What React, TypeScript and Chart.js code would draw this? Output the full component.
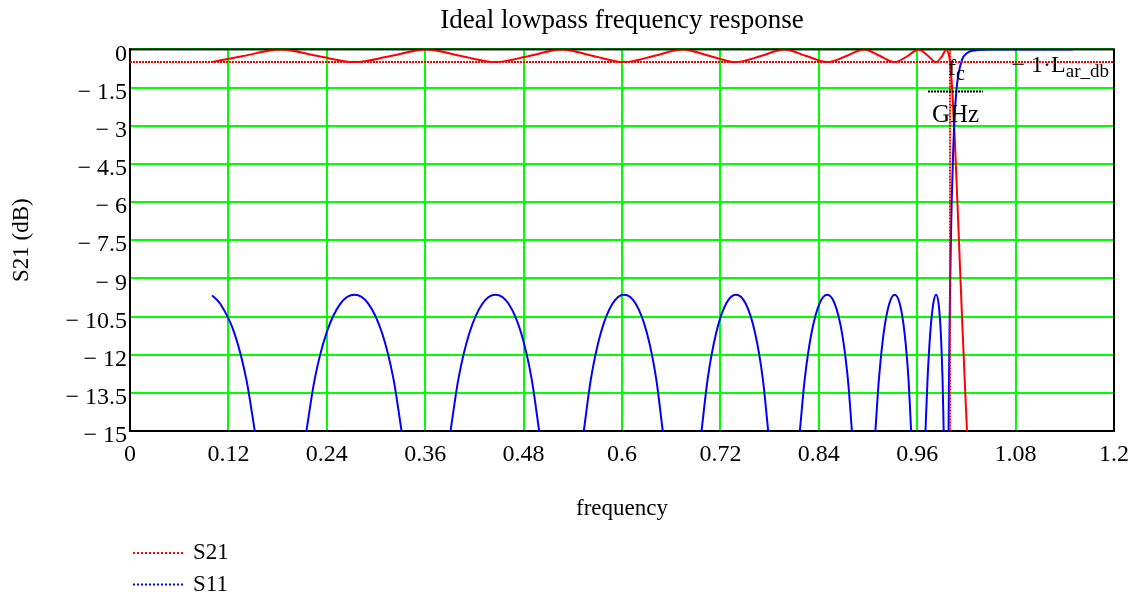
import { useEffect, useRef } from 'react';
import { Chart, registerables } from 'chart.js';

Chart.register(...registerables);

const FONT = '"Liberation Serif", "Times New Roman", serif';

const chartTitle = 'Ideal lowpass frequency response';
const xAxisTitle = 'frequency';
const yAxisTitle = 'S21 (dB)';

const xTickValues = [0, 0.12, 0.24, 0.36, 0.48, 0.6, 0.72, 0.84, 0.96, 1.08, 1.2];
const xTickLabels = ['0', '0.12', '0.24', '0.36', '0.48', '0.6', '0.72', '0.84', '0.96', '1.08', '1.2'];
const yTickValues = [0, -1.5, -3, -4.5, -6, -7.5, -9, -10.5, -12, -13.5, -15];
const yTickLabels = ['0', '− 1.5', '− 3', '− 4.5', '− 6', '− 7.5', '− 9', '− 10.5', '− 12', '− 13.5', '− 15'];

// passband ripple (L_ar_db) and cut-off frequency (f_c, GHz)
const rippleDb = 0.5;
const cutoffGHz = 1.0;

// S21 (dB) vs frequency
const s21Freq = [
  0.1, 0.1382, 0.1837, 0.229, 0.2737, 0.3178, 0.3612, 0.4039, 0.4457, 0.4866,
  0.5264, 0.5651, 0.6026, 0.6388, 0.6737, 0.7071, 0.739, 0.7693, 0.798, 0.825,
  0.8502, 0.8736, 0.8952, 0.9148, 0.9325, 0.9482, 0.9618, 0.9734, 0.983, 0.9904,
  0.9957, 0.9989, 1.0, 1.001, 1.002, 1.004, 1.006, 1.008, 1.01, 1.012,
  1.015, 1.018, 1.02, 1.025, 1.03, 1.05, 1.1, 1.15,
];
const s21Db = [
  -0.49, -0.26, 0, -0.26, -0.5, -0.26, 0, -0.26, -0.5, -0.26,
  0, -0.26, -0.5, -0.26, 0, -0.26, -0.5, -0.26, 0, -0.26,
  -0.5, -0.26, 0, -0.26, -0.5, -0.26, 0, -0.26, -0.5, -0.26,
  0, -0.26, -0.5, -0.82, -1.23, -2.3, -3.66, -5.19, -6.77, -8.41,
  -10.79, -13.04, -14.49, -17.86, -20.95, -31.3, -50.3, -64.9,
];

// S11 (dB) vs frequency (null = below the plotted range)
const s11Freq = [
  0.1, 0.1098, 0.1273, 0.1419, 0.1522, 0.1837,
  0.2151, 0.2252, 0.2396, 0.2566, 0.2737, 0.2906, 0.3074, 0.3214, 0.3312, 0.3612,
  0.3909, 0.4004, 0.4139, 0.4299, 0.4457, 0.4615, 0.477, 0.4899, 0.499, 0.5264,
  0.5534, 0.562, 0.5741, 0.5885, 0.6026, 0.6166, 0.6304, 0.6418, 0.6497, 0.6737,
  0.697, 0.7044, 0.7148, 0.727, 0.739, 0.7508, 0.7623, 0.7718, 0.7783, 0.798,
  0.8169, 0.8228, 0.8311, 0.8408, 0.8502, 0.8594, 0.8683, 0.8755, 0.8804, 0.8952,
  0.909, 0.9133, 0.9191, 0.926, 0.9325, 0.9387, 0.9446, 0.9494, 0.9526, 0.9618,
  0.9701, 0.9726, 0.9759, 0.9796, 0.983, 0.9861, 0.9888, 0.9909, 0.9923, 0.9957,
  0.9982, 0.99875, 0.99938, 0.99984, 1.0, 1.001, 1.002, 1.004, 1.006, 1.008,
  1.01, 1.015, 1.02, 1.03, 1.05, 1.15,
];
const s11Db = [
  -9.67, -9.99, -11.15, -12.97, -15, null,
  -15, -12.97, -11.15, -9.99, -9.64, -9.99, -11.15, -12.97, -15, null,
  -15, -12.97, -11.15, -9.99, -9.64, -9.99, -11.15, -12.97, -15, null,
  -15, -12.97, -11.15, -9.99, -9.64, -9.99, -11.15, -12.97, -15, null,
  -15, -12.97, -11.15, -9.99, -9.64, -9.99, -11.15, -12.97, -15, null,
  -15, -12.97, -11.15, -9.99, -9.64, -9.99, -11.15, -12.97, -15, null,
  -15, -12.97, -11.15, -9.99, -9.64, -9.99, -11.15, -12.97, -15, null,
  -15, -12.97, -11.15, -9.99, -9.64, -9.99, -11.15, -12.97, -15, null,
  -15, -12.97, -11.15, -9.99, -9.64, -7.66, -6.07, -3.86, -2.44, -1.56,
  -1.03, -0.38, -0.16, -0.04, 0, 0,
];

const framePlugin = {
  id: 'frame',
  beforeDatasetsDraw(chart: any) {
    const { ctx, chartArea: a } = chart;
    ctx.save();
    ctx.strokeStyle = '#000';
    ctx.lineWidth = 2;
    ctx.strokeRect(a.left, a.top, a.right - a.left, a.bottom - a.top);
    ctx.restore();
  },
};

const markerLabelPlugin = {
  id: 'markerLabels',
  afterDatasetsDraw(chart: any) {
    const { ctx, chartArea: a, scales } = chart;
    const fx = scales.x.getPixelForValue(cutoffGHz);
    const ly = scales.y.getPixelForValue(-rippleDb);
    ctx.save();
    ctx.fillStyle = '#000';
    ctx.textAlign = 'left';
    ctx.textBaseline = 'alphabetic';
    // level marker label:  − 1·L_ar_db
    const mainTxt = '− 1·L';
    const subTxt = 'ar_db';
    ctx.font = `24px ${FONT}`;
    const mw = ctx.measureText(mainTxt).width;
    ctx.font = `19px ${FONT}`;
    const sw = ctx.measureText(subTxt).width;
    const sx = a.right - 5 - mw - sw;
    ctx.font = `24px ${FONT}`;
    ctx.fillText(mainTxt, sx, ly + 10);
    ctx.font = `19px ${FONT}`;
    ctx.fillText(subTxt, sx + mw, ly + 15);
    // cutoff marker label: f_c / GHz
    ctx.font = `24px ${FONT}`;
    ctx.fillText('f', fx - 2, a.top + 26);
    ctx.font = `20px ${FONT}`;
    ctx.fillText('c', fx + 6, a.top + 31);
    ctx.strokeStyle = '#000';
    ctx.lineWidth = 2;
    ctx.setLineDash([2, 1]);
    ctx.beginPath();
    ctx.moveTo(fx - 22, a.top + 42);
    ctx.lineTo(fx + 33, a.top + 42);
    ctx.stroke();
    ctx.setLineDash([]);
    ctx.font = `25px ${FONT}`;
    ctx.fillText('GHz', fx - 18, a.top + 73);
    ctx.restore();
  },
};

const legendPlugin = {
  id: 'mcLegend',
  afterDraw(chart: any) {
    const { ctx, chartArea: a } = chart;
    const items = chart.data.datasets.filter((d: any) => d.inLegend);
    ctx.save();
    items.forEach((d: any, i: number) => {
      const y = chart.height - 43 + i * 31.5;
      const x0 = a.left + 3;
      ctx.strokeStyle = d.borderColor;
      ctx.lineWidth = 2;
      ctx.setLineDash([2, 2]);
      ctx.beginPath();
      ctx.moveTo(x0, y);
      ctx.lineTo(x0 + 51, y);
      ctx.stroke();
      ctx.setLineDash([]);
      ctx.fillStyle = '#000';
      ctx.font = `23px ${FONT}`;
      ctx.textAlign = 'left';
      ctx.textBaseline = 'middle';
      ctx.fillText(d.label, x0 + 60, y);
    });
    ctx.restore();
  },
};

export default function App() {
  const ref = useRef<HTMLCanvasElement>(null);

  useEffect(() => {
    const canvas = ref.current;
    if (!canvas) return;
    Chart.defaults.font.family = FONT;
    Chart.defaults.color = '#000';

    const s21Data = s21Freq.map((f, i) => ({ x: f, y: s21Db[i] }));
    const s11Data = s11Freq.map((f, i) => ({ x: f, y: s11Db[i] }));
    const levelData = [
      { x: xTickValues[0], y: -rippleDb },
      { x: xTickValues[xTickValues.length - 1], y: -rippleDb },
    ];
    const cutoffData = [
      { x: cutoffGHz, y: yTickValues[0] },
      { x: cutoffGHz, y: yTickValues[yTickValues.length - 1] },
    ];

    const chart = new Chart(canvas, {
      type: 'line',
      data: {
        datasets: [
          {
            label: 'S21',
            data: s21Data,
            borderColor: '#ff0000',
            borderWidth: 2,
            pointRadius: 0,
            cubicInterpolationMode: 'monotone',
            spanGaps: false,
            order: 2,
            inLegend: true,
          } as any,
          {
            label: 'S11',
            data: s11Data,
            borderColor: '#0000ff',
            borderWidth: 2,
            pointRadius: 0,
            cubicInterpolationMode: 'monotone',
            spanGaps: false,
            order: 1,
            inLegend: true,
          } as any,
          {
            label: 'level',
            data: levelData,
            borderColor: '#ff0000',
            borderWidth: 2,
            borderDash: [2, 1],
            pointRadius: 0,
            order: 0,
          } as any,
          {
            label: 'cutoff',
            data: cutoffData,
            borderColor: '#ff0000',
            borderWidth: 2,
            borderDash: [2, 1],
            pointRadius: 0,
            order: 0,
          } as any,
        ],
      },
      options: {
        responsive: false,
        animation: false,
        devicePixelRatio: 1,
        events: [],
        layout: { padding: { left: 0, right: 22, top: 0, bottom: 73 } },
        plugins: {
          legend: { display: false },
          tooltip: { enabled: false },
          title: {
            display: true,
            text: chartTitle,
            fullSize: false,
            color: '#000',
            font: { size: 27, weight: 'normal', family: FONT },
            padding: { top: 5, bottom: 12 },
          },
        },
        scales: {
          x: {
            type: 'linear',
            min: 0,
            max: 1.2,
            afterBuildTicks: (s: any) => {
              s.ticks = xTickValues.map((v) => ({ value: v }));
            },
            afterFit: (s: any) => {
              s.height = 92;
            },
            ticks: {
              autoSkip: false,
              maxRotation: 0,
              padding: 9,
              color: '#000',
              font: { size: 24, family: FONT },
              callback: (_v: any, i: number) => xTickLabels[i],
            },
            grid: { color: '#00ff00', lineWidth: 2, drawTicks: false },
            border: { display: true, color: '#000', width: 2 },
            title: {
              display: true,
              text: xAxisTitle,
              color: '#000',
              font: { size: 23, family: FONT },
              padding: { top: 0, bottom: 0 },
            },
          },
          y: {
            type: 'linear',
            min: -15,
            max: 0,
            afterBuildTicks: (s: any) => {
              s.ticks = yTickValues.map((v) => ({ value: v }));
            },
            afterFit: (s: any) => {
              s.width = 130;
            },
            ticks: {
              autoSkip: false,
              padding: 3,
              labelOffset: 5,
              color: '#000',
              font: { size: 24, family: FONT },
              callback: (_v: any, i: number) => yTickLabels[i],
            },
            grid: { color: '#00ff00', lineWidth: 2, drawTicks: false },
            border: { display: true, color: '#000', width: 2 },
            title: {
              display: true,
              text: yAxisTitle,
              color: '#000',
              font: { size: 23, family: FONT },
              padding: { top: 8, bottom: 0 },
            },
          },
        },
      } as any,
      plugins: [framePlugin, markerLabelPlugin, legendPlugin],
    });

    return () => chart.destroy();
  }, []);

  return (
    <div style={{ position: 'absolute', left: 0, top: 0, width: 1138, height: 596, background: '#fff' }}>
      <canvas ref={ref} width={1138} height={596} style={{ display: 'block' }} />
    </div>
  );
}
